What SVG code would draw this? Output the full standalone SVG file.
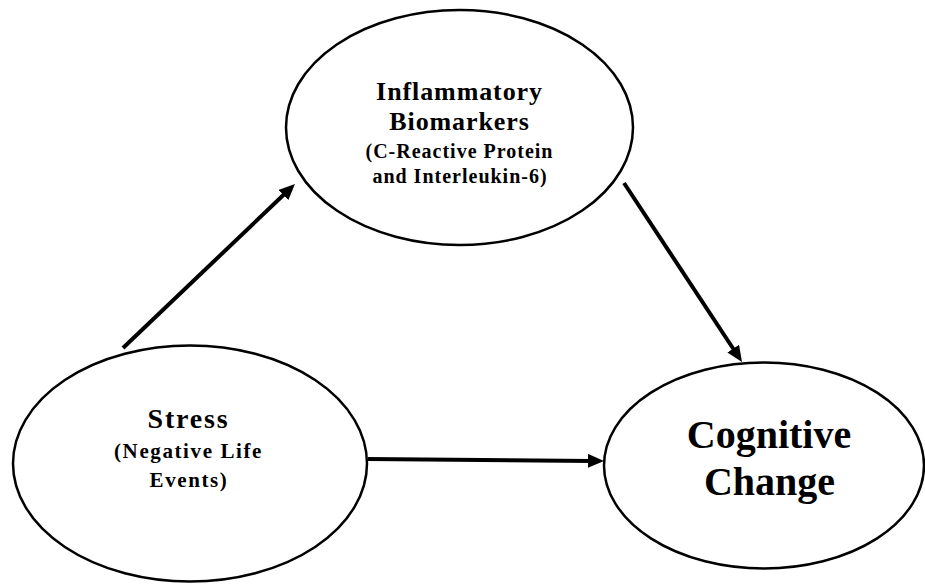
<svg xmlns="http://www.w3.org/2000/svg" width="925" height="584" viewBox="0 0 925 584">
  <style>
    .node { fill: #ffffff; stroke: #000000; stroke-width: 2.5; }
    .conn { stroke: #000000; stroke-width: 4; fill: none; marker-end: url(#arrow); }
    text { font-family: "Liberation Serif", "Times New Roman", serif; font-weight: bold; fill: #000000; text-anchor: middle; }
    .t1 { font-size: 26px; letter-spacing: 0.9px; }
    .t2 { font-size: 20px; letter-spacing: 1px; }
    .s1 { font-size: 28px; letter-spacing: 1.8px; }
    .s2 { font-size: 21px; letter-spacing: 1.6px; }
    .c1 { font-size: 40px; }
  </style>
  <defs>
    <marker id="arrow" markerUnits="userSpaceOnUse" markerWidth="18" markerHeight="16" refX="4" refY="7" orient="auto">
      <path d="M0,0 L16,7 L0,14 z" fill="#000000"/>
    </marker>
  </defs>
  <rect width="925" height="584" fill="#ffffff"/>
  <g id="connectors">
    <line class="conn" x1="123" y1="348" x2="286.3" y2="192.3"/>
    <line class="conn" x1="624" y1="183" x2="735.4" y2="352"/>
    <line class="conn" x1="368" y1="459" x2="592" y2="460.9"/>
  </g>
  <g id="inflammatory">
    <ellipse class="node" cx="459.5" cy="127.5" rx="173.5" ry="117.5"/>
    <text class="t1" x="459.5" y="100">Inflammatory</text>
    <text class="t1" x="459.5" y="130">Biomarkers</text>
    <text class="t2" x="459.5" y="158">(C-Reactive Protein</text>
    <text class="t2" x="460" y="183">and Interleukin-6)</text>
  </g>
  <g id="stress">
    <ellipse class="node" cx="190" cy="463.5" rx="177" ry="118"/>
    <text class="s1" x="188.5" y="428">Stress</text>
    <text class="s2" x="188.5" y="458">(Negative Life</text>
    <text class="s2" x="189" y="487">Events)</text>
  </g>
  <g id="cognitive">
    <ellipse class="node" cx="764" cy="465.5" rx="160" ry="103"/>
    <text class="c1" x="769" y="448">Cognitive</text>
    <text class="c1" x="769.5" y="495">Change</text>
  </g>
</svg>
